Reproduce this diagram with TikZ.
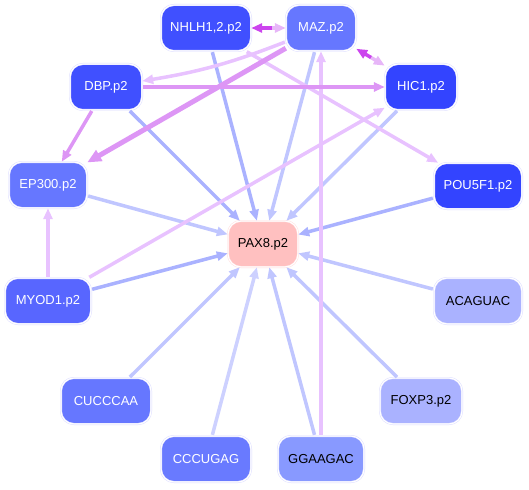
\documentclass[tikz,border=0pt]{standalone}
\usepackage{fontspec}
\setmainfont{Liberation Sans}
\usetikzlibrary{arrows.meta}
\definecolor{tfdark}{RGB}{64,80,255}
\definecolor{tfblue}{RGB}{51,68,255}
\definecolor{tfmid}{RGB}{88,102,255}
\definecolor{tflight}{RGB}{102,119,255}
\definecolor{tfpale}{RGB}{136,153,255}
\definecolor{tfpaler}{RGB}{170,178,255}
\definecolor{tgpink}{RGB}{255,192,192}
\definecolor{edgeblue}{RGB}{170,178,255}
\definecolor{edgesoft}{RGB}{192,198,255}
\definecolor{edgepurple}{RGB}{221,150,245}
\definecolor{edgedark}{RGB}{204,68,238}
\definecolor{edgepink}{RGB}{232,194,255}
\definecolor{rimcol}{RGB}{215,215,255}

\begin{document}
\begin{tikzpicture}[x=1pt, y=-1pt,
  every node/.style={font=\fontsize{13}{15}\selectfont},
  tf/.style={rounded corners=13pt, draw=rimcol, double=white, double distance=1.2pt,
    line width=0.4pt, minimum height=46pt, inner sep=2pt, text=white},
  tfblack/.style={tf, text=black},
  lnk/.style={line width=3.5pt, -{Triangle[length=11pt, width=9pt]}, shorten <=1pt},
  lnkthick/.style={line width=5pt, -{Triangle[length=14pt, width=12pt]}}]
\useasboundingbox (0,0) rectangle (529,489);
% Nodes
\node[tfblack, fill=tgpink, draw=tgpink!60, minimum width=70pt] (pax) at (263,244) {PAX8.p2};
\node[tf, fill=tfdark, minimum width=90pt] (nhlh) at (206,28) {NHLH1,2.p2};
\node[tf, fill=tflight, minimum width=70pt] (maz) at (321,28) {MAZ.p2};
\node[tf, fill=tfdark, minimum width=72pt] (dbp) at (106,87) {DBP.p2};
\node[tf, fill=tfblue, minimum width=72pt] (hic) at (421,87) {HIC1.p2};
\node[tf, fill=tflight, minimum width=78pt] (ep) at (48,185) {EP300.p2};
\node[tf, fill=tfblue, minimum width=88pt] (pou) at (478,186) {POU5F1.p2};
\node[tf, fill=tfmid, minimum width=86pt] (myod) at (48,301) {MYOD1.p2};
\node[tfblack, fill=tfpaler, minimum width=88pt] (acag) at (478,301) {ACAGUAC};
\node[tf, fill=tflight, minimum width=90pt] (cucc) at (106,401) {CUCCCAA};
\node[tfblack, fill=tfpaler, minimum width=82pt] (foxp) at (421,401) {FOXP3.p2};
\node[tf, fill=tflight!90!tfpale, minimum width=90pt] (cccu) at (206,459) {CCCUGAG};
\node[tfblack, fill=tfpale, minimum width=86pt] (ggaa) at (321,459) {GGAAGAC};
% Links to PAX8
\draw[lnk, edgeblue] (nhlh) -- (pax);
\draw[lnk, edgesoft] (maz) -- (pax);
\draw[lnk, edgeblue] (dbp) -- (pax);
\draw[lnk, edgesoft] (hic) -- (pax);
\draw[lnk, edgesoft] (ep) -- (pax);
\draw[lnk, edgeblue] (pou) -- (pax);
\draw[lnk, edgeblue] (myod) -- (pax);
\draw[lnk, edgesoft] (acag) -- (pax);
\draw[lnk, edgesoft] (foxp) -- (pax);
\draw[lnk, edgesoft] (cucc) -- (pax);
\draw[lnk, edgesoft!80!white] (cccu) -- (pax);
\draw[lnk, edgesoft] (ggaa) -- (pax);
% Links between regulators
\draw[lnk, edgepink] (nhlh) -- (pou);
\draw[lnk, edgepink] (myod) -- (hic);
\draw[lnk, edgepink] (myod) -- (ep);
\draw[lnk, edgepink] (ggaa) -- (maz);
\draw[lnk, edgepink] (maz) to[bend left=6] (dbp);
\draw[lnk, edgepurple] (dbp) -- (hic);
\draw[lnk, edgepurple] (dbp) -- (ep);
\draw[lnkthick, edgepurple] (maz) -- (ep);
% Two-way pairs
\draw[lnk, edgepurple!70!white, shorten <=14pt] (nhlh) -- (maz);
\draw[lnk, edgedark, shorten <=14pt] (maz) -- (nhlh);
\draw[lnk, edgepurple!70!white, shorten <=16pt] (maz) -- (hic);
\draw[lnk, edgedark, shorten <=16pt] (hic) -- (maz);
\end{tikzpicture}
\end{document}
